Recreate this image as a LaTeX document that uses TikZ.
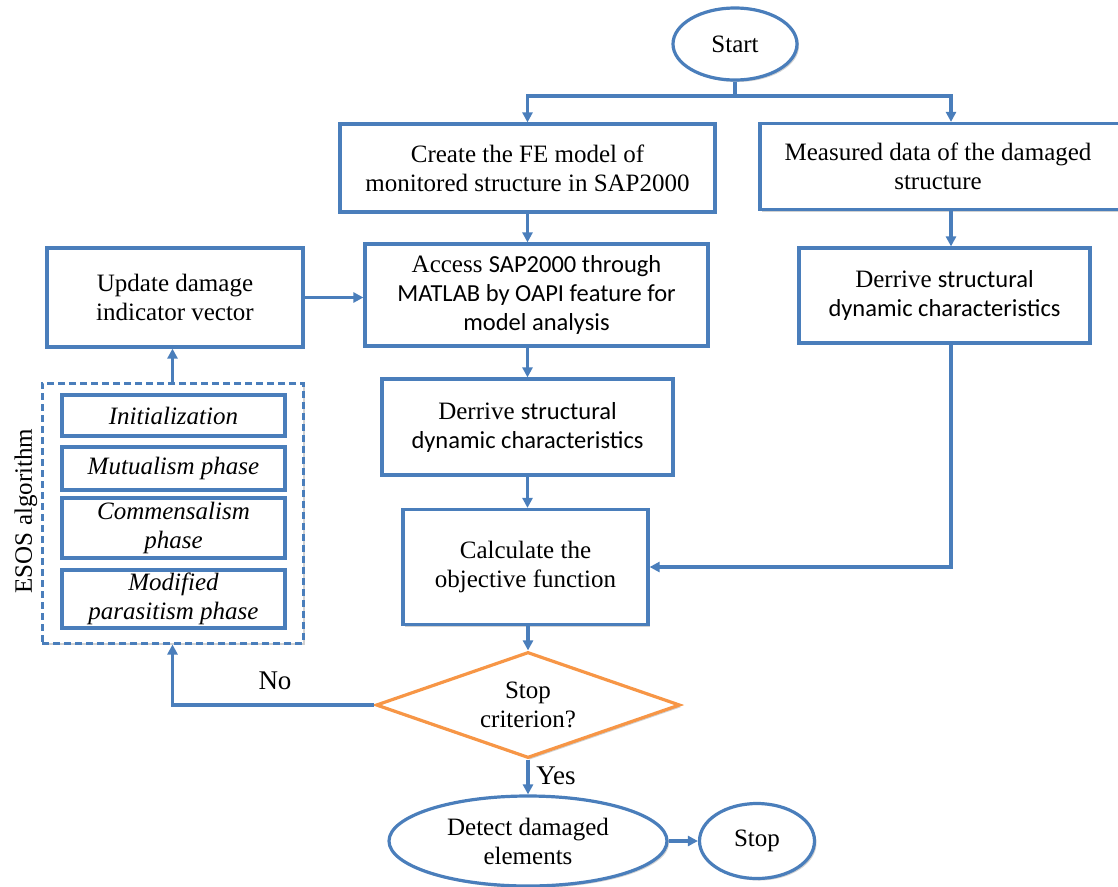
\documentclass[tikz,border=0pt]{standalone}
\usepackage{fontspec}
\setmainfont{Liberation Serif}
\setsansfont{Carlito}[Scale=0.98]
\usetikzlibrary{arrows.meta,shapes.geometric,shadows}
\definecolor{bl}{HTML}{4A7EBB}
\definecolor{orn}{HTML}{F79646}
\begin{document}
\begin{tikzpicture}[x=1pt,y=-1pt,
  txt/.style={font=\fontsize{25}{29}\selectfont, align=center},
  shad/.style={drop shadow={shadow xshift=2pt,shadow yshift=-2pt,opacity=0.3,fill=black!60}},
  box/.style={txt, draw=bl, line width=3.2pt, fill=white, shad, inner sep=0pt},
  term/.style={txt, ellipse, draw=bl, line width=3.2pt, fill=white, shad, inner sep=0pt},
  inbox/.style={draw=bl, line width=3.2pt, fill=white, inner sep=0pt, align=center,
                font=\fontsize{25}{29}\selectfont\itshape},
  arr/.style={draw=bl, line width=3.2pt, -{Triangle[length=10pt,width=10pt]}},
  ln/.style={draw=bl, line width=3.2pt},
  lab/.style={font=\fontsize{27}{30}\selectfont, inner sep=0pt}]
\useasboundingbox (0,0) rectangle (1118,886);

\node[term, minimum width=124, minimum height=72] (start) at (735,44) {Start};
\node[box, minimum width=375, minimum height=88] (fe) at (527.5,168)
  {Create the FE model of\\monitored structure in SAP2000};
\node[box, minimum width=382, minimum height=86] (meas) at (951,166.5)
  {\hspace*{-26pt}Measured data of the damaged\\\hspace*{-26pt}structure};
\node[box, minimum width=343, minimum height=102] (acc) at (536.5,295)
  {Access {\sffamily SAP2000 through}\\{\sffamily MATLAB by OAPI feature for}\\{\sffamily model analysis}};
\node[box, minimum width=256, minimum height=99] (upd) at (175,297.5)
  {Update damage\\indicator vector};
\node[box, minimum width=291, minimum height=95] (rd) at (944.5,295.5)
  {Derrive {\sffamily structural}\\{\sffamily dynamic characteristics}};
\node[box, minimum width=291, minimum height=96] (md) at (527.5,427)
  {Derrive {\sffamily structural}\\{\sffamily dynamic characteristics}};
\node[box, minimum width=245, minimum height=115] (calc) at (525.5,567)
  {Calculate the\\objective function};
\node[diamond, draw=orn, line width=3.2pt, fill=white, shad, minimum width=304, minimum height=106,
  inner sep=0pt, label={[txt]center:Stop\\criterion?}] (dia) at (528,705) {};
\node[term, minimum width=278, minimum height=90] (det) at (528,841)
  {Detect damaged\\elements};
\node[term, minimum width=115, minimum height=75] (stop) at (757,841) {Stop};

% ESOS group
\node[draw=bl, line width=3pt, dash pattern=on 7pt off 4pt, fill=white, shad, minimum width=261, minimum height=260, inner sep=0pt]
  (esos) at (172.5,513) {};
\node[inbox, minimum width=223, minimum height=41] (ini) at (173.5,415.5) {Initialization};
\node[inbox, minimum width=223, minimum height=43] (mut) at (173.5,468.5) {Mutualism phase};
\node[inbox, minimum width=223, minimum height=60] (com) at (173.5,528) {Commensalism\\phase};
\node[inbox, minimum width=223, minimum height=58] (mod) at (173.5,599) {Modified\\parasitism phase};
\node[font=\fontsize{25}{29}\selectfont, rotate=90, inner sep=0pt] (esl) at (26,511) {ESOS algorithm};

% connectors
\coordinate (br) at (735,96);
\draw[ln] (start.south) -- (br);
\draw[arr] (br) -| (fe.north);
\draw[arr] (br) -| (meas.north);
\draw[arr] (fe.south) -- (fe.south |- acc.north);
\draw[arr] (meas.south) -- (meas.south |- rd.north);
\draw[arr] (upd.east) -- (upd.east -| acc.west);
\draw[arr] (acc.south -| md.north) -- (md.north);
\draw[arr] (md.south) -- (md.south |- calc.north);
\draw[arr] (rd.south -| meas.south) |- (calc.east);
\draw[arr] (calc.south -| dia.north) -- (dia.north);
\draw[arr] (dia.west) -| (esos.south);
\draw[arr] (esos.north) -- (esos.north |- upd.south);
\draw[arr] (dia.south) -- (det.north);
\draw[arr] (det.east) -- (stop.west);

\node[lab] (no) at (275,681) {No};
\node[lab] (yes) at (556,776) {Yes};
\end{tikzpicture}
\end{document}
